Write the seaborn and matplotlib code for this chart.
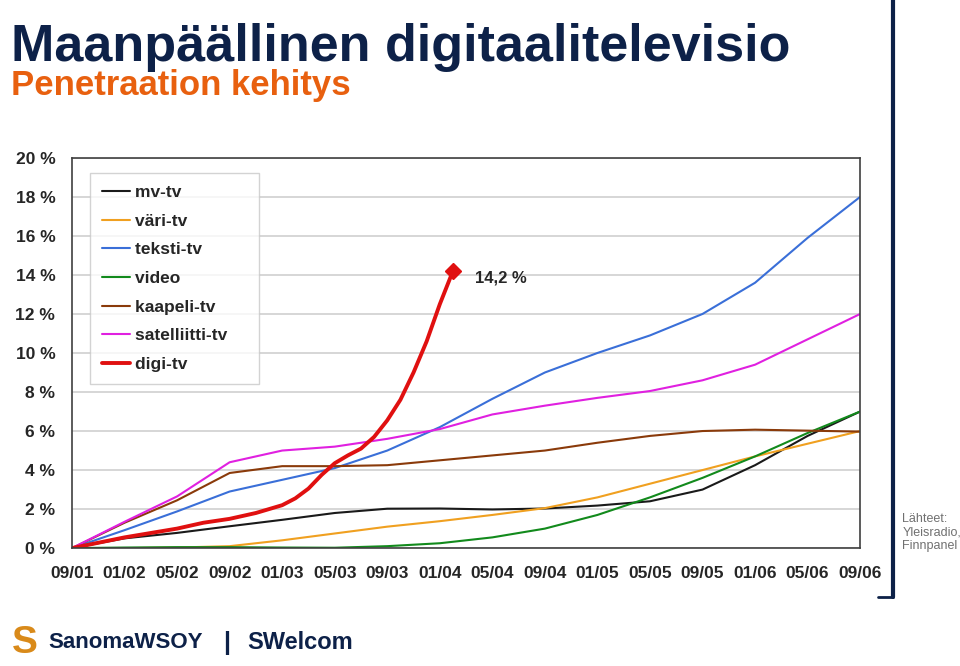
import numpy as np
import pandas as pd
import matplotlib
matplotlib.use('Agg')
import matplotlib.pyplot as plt
import seaborn as sns
from matplotlib.lines import Line2D

# months since 09/01, tick every 4 months
months = [0, 4, 8, 12, 16, 20, 24, 28, 32, 36, 40, 44, 48, 52, 56, 60]
tick_labels = ['09/01', '01/02', '05/02', '09/02', '01/03', '05/03', '09/03', '01/04',
               '05/04', '09/04', '01/05', '05/05', '09/05', '01/06', '05/06', '09/06']

mv_tv = [0, 0.5, 0.78, 1.12, 1.45, 1.8, 2.02, 2.03, 1.98, 2.03, 2.18, 2.4, 3.0, 4.25, 5.75, 7.0]
vari_tv = [0, 0.0, 0.03, 0.1, 0.4, 0.75, 1.1, 1.38, 1.7, 2.05, 2.6, 3.3, 4.0, 4.7, 5.35, 6.0]
teksti_tv = [0, 0.92, 1.88, 2.9, 3.5, 4.1, 5.0, 6.2, 7.65, 9.0, 10.0, 10.9, 12.0, 13.6, 15.9, 18.0]
video = [0, 0.03, 0.05, 0.05, 0.03, 0.02, 0.1, 0.25, 0.55, 1.0, 1.7, 2.6, 3.6, 4.7, 5.9, 7.0]
kaapeli_tv = [0, 1.3, 2.45, 3.85, 4.2, 4.2, 4.25, 4.5, 4.75, 5.0, 5.4, 5.75, 6.0, 6.07, 6.02, 5.97]
satelliitti_tv = [0, 1.35, 2.65, 4.4, 5.0, 5.2, 5.6, 6.1, 6.85, 7.3, 7.7, 8.05, 8.6, 9.4, 10.7, 12.0]

digi_months = [0, 4, 8, 10, 12, 14, 16, 17, 18, 19, 20, 21, 22, 23, 24, 25, 26, 27, 28, 29]
digi_tv = [0, 0.55, 1.0, 1.3, 1.5, 1.8, 2.2, 2.55, 3.05, 3.75, 4.35, 4.75, 5.1, 5.7,
           6.55, 7.6, 9.0, 10.6, 12.5, 14.2]

series = {
    'mv-tv': mv_tv,
    'väri-tv': vari_tv,
    'teksti-tv': teksti_tv,
    'video': video,
    'kaapeli-tv': kaapeli_tv,
    'satelliitti-tv': satelliitti_tv,
}
colors = {
    'mv-tv': '#1a1a1a',
    'väri-tv': '#f0a020',
    'teksti-tv': '#3a6fd8',
    'video': '#128a1c',
    'kaapeli-tv': '#8a3a0a',
    'satelliitti-tv': '#e020e0',
    'digi-tv': '#e01010',
}

df = pd.DataFrame([
    {'month': m, 'value': v, 'series': name}
    for name, vals in series.items() for m, v in zip(months, vals)
])
df_digi = pd.DataFrame({'month': digi_months, 'value': digi_tv})

sns.set_style('white')
plt.rcParams['font.family'] = ['Liberation Sans', 'DejaVu Sans']

fig = plt.figure(figsize=(9.6, 6.66), dpi=100)
ax = fig.add_axes([0.075, 0.177, 0.821, 0.586])

sns.lineplot(data=df, x='month', y='value', hue='series', palette=colors,
             linewidth=1.5, ax=ax, legend=False)
sns.lineplot(data=df_digi, x='month', y='value', color=colors['digi-tv'],
             linewidth=2.8, ax=ax, legend=False)
ax.plot(digi_months[-1], digi_tv[-1], marker='D', color=colors['digi-tv'], markersize=8)
ax.text(digi_months[-1] + 1.7, digi_tv[-1] - 0.6, '14,2 %', fontsize=12, fontweight='bold')

ax.set_xlim(0, 60)
ax.set_ylim(0, 20)
ax.set_xticks(months)
ax.set_xticklabels(tick_labels, fontsize=12.5, fontweight='bold')
ax.set_yticks(range(0, 21, 2))
ax.set_yticklabels([f'{v} %' for v in range(0, 21, 2)], fontsize=12.5, fontweight='bold')
ax.set_xlabel('')
ax.set_ylabel('')
ax.yaxis.grid(True, color='#d0d0d0', linewidth=1.2)
ax.set_axisbelow(True)
for s in ax.spines.values():
    s.set_color('#404040')
    s.set_linewidth(1.2)
ax.tick_params(axis='x', direction='out', length=5, width=1, color='#808080', pad=8)
ax.tick_params(axis='y', direction='out', length=0, pad=12)

handles = [Line2D([], [], color=colors[n], linewidth=1.5) for n in series]
handles.append(Line2D([], [], color=colors['digi-tv'], linewidth=2.8))
labels = [n + '    ' for n in series] + ['digi-tv    ']
leg = ax.legend(handles, labels, loc='upper left', bbox_to_anchor=(0.023, 0.962),
                frameon=True, fancybox=False, edgecolor='#c8c8c8', handlelength=1.6,
                handletextpad=0.3, labelspacing=0.78, borderpad=0.7, borderaxespad=0,
                prop={'weight': 'bold', 'size': 12.5})
leg.get_frame().set_linewidth(1.0)

fig.text(0.011, 0.908, 'Maanpäällinen digitaalitelevisio', fontsize=37.5, fontweight='bold',
         color='#0d2148', va='baseline')
fig.text(0.011, 0.857, 'Penetraation kehitys', fontsize=25, fontweight='bold',
         color='#e8600f', va='baseline')

fig.add_artist(Line2D([0.93, 0.93], [0.103, 1.0], color='#0d2148', linewidth=3,
                      transform=fig.transFigure))
fig.add_artist(Line2D([0.915, 0.93], [0.103, 0.103], color='#0d2148', linewidth=2,
                      transform=fig.transFigure))
fig.text(0.94, 0.20, 'Lähteet:\nYleisradio,\nFinnpanel', fontsize=9, color='#707070',
         va='center', linespacing=1.15)

fig.text(0.05, 0.035, 'SanomaWSOY', fontsize=16, fontweight='bold', color='#0d2148',
         va='center')
fig.text(0.232, 0.035, '|', fontsize=18, fontweight='bold', color='#0d2148', va='center')
fig.text(0.258, 0.035, 'SWelcom', fontsize=17, fontweight='bold', color='#0d2148', va='center')
fig.text(0.012, 0.035, 'S', fontsize=28, fontweight='bold', color='#d98a1a', va='center')

fig.savefig('out.png', dpi=100, facecolor='white')
